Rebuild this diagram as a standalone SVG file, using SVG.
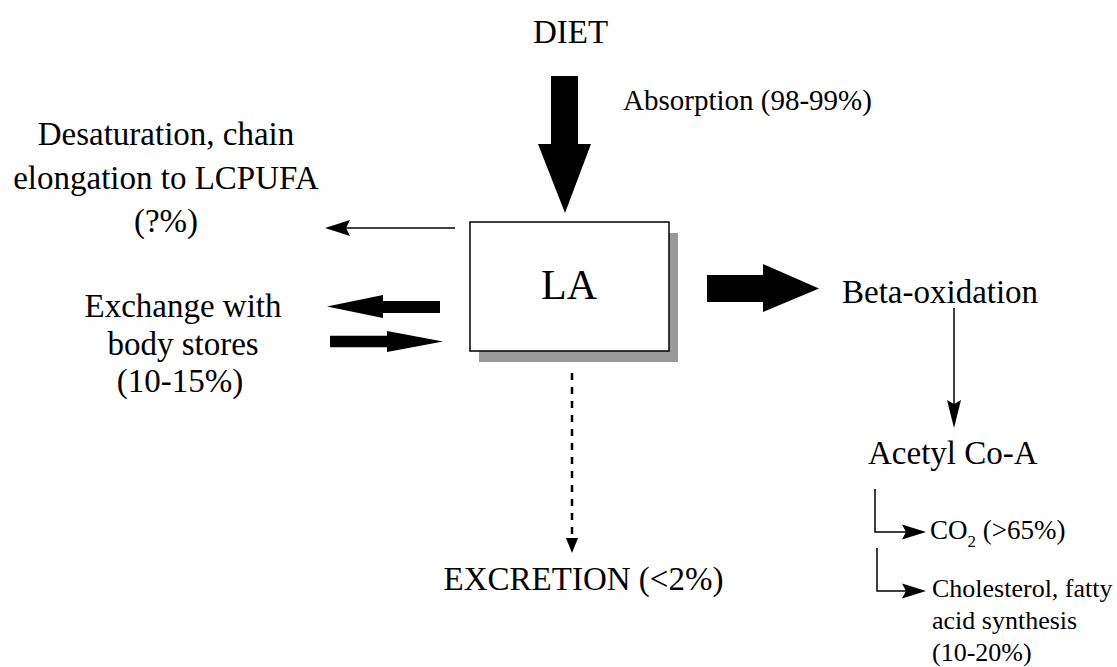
<svg xmlns="http://www.w3.org/2000/svg" width="1117" height="667" viewBox="0 0 1117 667">
<style>
text{font-family:"Liberation Serif","Times New Roman",serif;fill:#000}
.big{font-size:33px}
.mid{font-size:29px}
.sm{font-size:26px}
.thin{stroke:#000;stroke-width:1.5;fill:none}
.solid{fill:#000;stroke:none}
</style>
<rect width="1117" height="667" fill="#fff"/>
<g id="diet"><text class="big" x="570.5" y="43" text-anchor="middle">DIET</text></g>
<g id="absorption-label"><text class="mid" x="623" y="110">Absorption (98-99%)</text></g>
<g id="desaturation">
<text class="big" text-anchor="middle" x="166" y="145">Desaturation, chain</text>
<text class="big" text-anchor="middle" x="166" y="188.5">elongation to LCPUFA</text>
<text class="big" text-anchor="middle" x="166" y="232">(?%)</text>
</g>
<g id="exchange">
<text class="big" text-anchor="middle" x="183" y="317">Exchange with</text>
<text class="big" text-anchor="middle" x="183" y="354.5">body stores</text>
<text class="big" text-anchor="middle" x="180" y="392">(10-15%)</text>
</g>
<g id="la">
<rect x="479" y="233" width="199" height="129" fill="#999"/>
<rect x="470" y="222" width="199" height="129" fill="#fff" stroke="#000" stroke-width="1.5"/>
<text x="569" y="299" text-anchor="middle" style="font-size:42px">LA</text>
</g>
<g id="beta"><text class="big" x="842" y="303">Beta-oxidation</text></g>
<g id="acetyl"><text class="big" x="868" y="464">Acetyl Co-A</text></g>
<g id="excretion"><text class="big" x="583.5" y="590" text-anchor="middle">EXCRETION (&lt;2%)</text></g>
<g id="co2"><text style="font-size:27px" x="930" y="539">CO<tspan dy="8" style="font-size:17px">2</tspan><tspan dy="-8"> (&gt;65%)</tspan></text></g>
<g id="cholesterol">
<text class="sm" x="932" y="597">Cholesterol, fatty</text>
<text class="sm" x="932" y="629">acid synthesis</text>
<text class="sm" x="932" y="661">(10-20%)</text>
</g>
<g id="connectors">
<polygon class="solid" points="551,76 578,76 578,144 591,144 565,213 538,144 551,144"/>
<polygon class="solid" points="707,275 763,275 763,264 819,288.5 763,312 763,302 707,302"/>
<polygon class="solid" points="440,301 383,301 383,295 327,306.5 383,318 383,313 440,313"/>
<polygon class="solid" points="330,335.7 387,335.7 387,331 443,341.5 387,352 387,347.3 330,347.3"/>
<line class="thin" x1="455" y1="228" x2="340" y2="228"/>
<polygon class="solid" points="325,228 350,220 346,228 350,236"/>
<line class="thin" x1="954" y1="308" x2="954" y2="405"/>
<polygon class="solid" points="954,428 947,400 954,404 961,400"/>
<line x1="572" y1="373" x2="572" y2="540" stroke="#000" stroke-width="2.5" stroke-dasharray="7 7"/>
<polygon class="solid" points="572,553 566,538 578,538"/>
<polyline class="thin" points="875,489 875,532 906,532"/>
<polygon class="solid" points="926,532 902,524.5 906,532 902,539.5"/>
<polyline class="thin" points="877,548 877,591 906,591"/>
<polygon class="solid" points="926,591 902,583.5 906,591 902,598.5"/>
</g>
</svg>
